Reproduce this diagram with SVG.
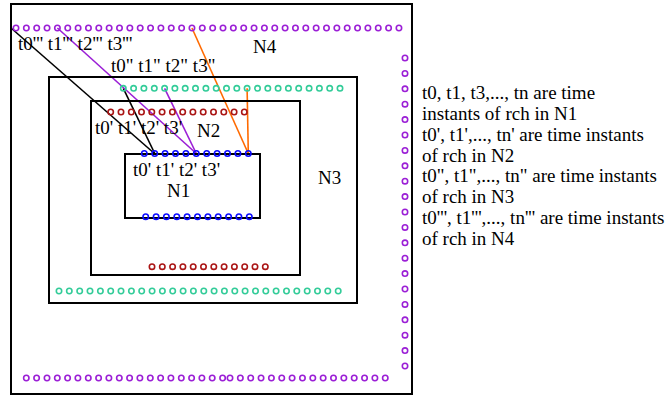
<svg xmlns="http://www.w3.org/2000/svg" width="670" height="395" viewBox="0 0 670 395">
<style>
.box{fill:none;stroke:#000;stroke-width:2}
circle{fill:none;stroke-width:1.6}
.p circle{stroke:#9b1fd6}
.g circle{stroke:#33cc99}
.r circle{stroke:#aa1515}
.b circle{stroke:#0a0aff}
text{font-family:"Liberation Serif","Times New Roman",serif;font-size:19px;fill:#000}
.ln{fill:none;stroke-width:1.6}
</style>
<rect width="670" height="395" fill="#fff"/>
<g id="connectors">
<line class="ln" x1="11" y1="28" x2="155" y2="154" stroke="#000"/>
<line class="ln" x1="123.3" y1="88.3" x2="155" y2="154" stroke="#000"/>
<line class="ln" x1="57.4" y1="28" x2="196.3" y2="153.5" stroke="#9b1fd6"/>
<line class="ln" x1="164.6" y1="88.3" x2="196.3" y2="153.5" stroke="#9b1fd6"/>
<line class="ln" x1="191.95" y1="28" x2="248.3" y2="153.5" stroke="#ff6a00"/>
<line class="ln" x1="247.1" y1="88.3" x2="248.3" y2="153.5" stroke="#ff6a00"/>
</g>
<g id="N4">
<rect class="box" x="11" y="4" width="401" height="390"/>
<g class="p">
<circle cx="16" cy="28" r="2.7"/><circle cx="26.35" cy="28" r="2.7"/><circle cx="36.7" cy="28" r="2.7"/><circle cx="47.05" cy="28" r="2.7"/><circle cx="57.4" cy="28" r="2.7"/><circle cx="67.75" cy="28" r="2.7"/><circle cx="78.1" cy="28" r="2.7"/><circle cx="88.45" cy="28" r="2.7"/><circle cx="98.8" cy="28" r="2.7"/><circle cx="109.15" cy="28" r="2.7"/><circle cx="119.5" cy="28" r="2.7"/><circle cx="129.85" cy="28" r="2.7"/><circle cx="140.2" cy="28" r="2.7"/><circle cx="150.55" cy="28" r="2.7"/><circle cx="160.9" cy="28" r="2.7"/><circle cx="171.25" cy="28" r="2.7"/><circle cx="181.6" cy="28" r="2.7"/><circle cx="191.95" cy="28" r="2.7"/><circle cx="202.3" cy="28" r="2.7"/><circle cx="212.65" cy="28" r="2.7"/><circle cx="223" cy="28" r="2.7"/><circle cx="233.35" cy="28" r="2.7"/><circle cx="243.7" cy="28" r="2.7"/><circle cx="254.05" cy="28" r="2.7"/><circle cx="264.4" cy="28" r="2.7"/><circle cx="274.75" cy="28" r="2.7"/><circle cx="285.1" cy="28" r="2.7"/><circle cx="295.45" cy="28" r="2.7"/><circle cx="305.8" cy="28" r="2.7"/><circle cx="316.15" cy="28" r="2.7"/><circle cx="326.5" cy="28" r="2.7"/><circle cx="336.85" cy="28" r="2.7"/><circle cx="347.2" cy="28" r="2.7"/><circle cx="357.55" cy="28" r="2.7"/><circle cx="367.9" cy="28" r="2.7"/><circle cx="378.25" cy="28" r="2.7"/><circle cx="388.6" cy="28" r="2.7"/><circle cx="398.95" cy="28" r="2.7"/>
<circle cx="405" cy="58" r="2.7"/><circle cx="405" cy="73.4" r="2.7"/><circle cx="405" cy="88.8" r="2.7"/><circle cx="405" cy="104.2" r="2.7"/><circle cx="405" cy="119.6" r="2.7"/><circle cx="405" cy="135" r="2.7"/><circle cx="405" cy="150.4" r="2.7"/><circle cx="405" cy="165.8" r="2.7"/><circle cx="405" cy="181.2" r="2.7"/><circle cx="405" cy="196.6" r="2.7"/><circle cx="405" cy="212" r="2.7"/><circle cx="405" cy="227.4" r="2.7"/><circle cx="405" cy="242.8" r="2.7"/><circle cx="405" cy="258.2" r="2.7"/><circle cx="405" cy="273.6" r="2.7"/><circle cx="405" cy="289" r="2.7"/><circle cx="405" cy="304.4" r="2.7"/><circle cx="405" cy="319.8" r="2.7"/><circle cx="405" cy="335.2" r="2.7"/><circle cx="405" cy="350.6" r="2.7"/><circle cx="405" cy="366" r="2.7"/>
<circle cx="26.3" cy="378" r="2.7"/><circle cx="36.6" cy="378" r="2.7"/><circle cx="47" cy="378" r="2.7"/><circle cx="57.3" cy="378" r="2.7"/><circle cx="67.6" cy="378" r="2.7"/><circle cx="77.9" cy="378" r="2.7"/><circle cx="88.3" cy="378" r="2.7"/><circle cx="98.6" cy="378" r="2.7"/><circle cx="108.9" cy="378" r="2.7"/><circle cx="119.3" cy="378" r="2.7"/><circle cx="129.6" cy="378" r="2.7"/><circle cx="139.9" cy="378" r="2.7"/><circle cx="150.3" cy="378" r="2.7"/><circle cx="160.6" cy="378" r="2.7"/><circle cx="170.9" cy="378" r="2.7"/><circle cx="181.3" cy="378" r="2.7"/><circle cx="191.6" cy="378" r="2.7"/><circle cx="201.9" cy="378" r="2.7"/><circle cx="212.2" cy="378" r="2.7"/><circle cx="222.6" cy="378" r="2.7"/>
<circle cx="230" cy="378" r="2.7"/><circle cx="240.35" cy="378" r="2.7"/><circle cx="250.7" cy="378" r="2.7"/><circle cx="261.05" cy="378" r="2.7"/><circle cx="271.4" cy="378" r="2.7"/><circle cx="281.75" cy="378" r="2.7"/><circle cx="292.1" cy="378" r="2.7"/><circle cx="302.45" cy="378" r="2.7"/><circle cx="312.8" cy="378" r="2.7"/><circle cx="323.15" cy="378" r="2.7"/><circle cx="333.5" cy="378" r="2.7"/><circle cx="343.85" cy="378" r="2.7"/><circle cx="354.2" cy="378" r="2.7"/><circle cx="364.55" cy="378" r="2.7"/><circle cx="374.9" cy="378" r="2.7"/><circle cx="385.25" cy="378" r="2.7"/>
</g>
<text x="18" y="50">t0''' t1''' t2''' t3'''</text>
<text x="253" y="53">N4</text>
</g>
<g id="N3">
<rect class="box" x="49" y="77" width="308" height="226"/>
<g class="g">
<circle cx="123.3" cy="88.3" r="2.7"/><circle cx="133.6" cy="88.3" r="2.7"/><circle cx="143.9" cy="88.3" r="2.7"/><circle cx="154.3" cy="88.3" r="2.7"/><circle cx="164.6" cy="88.3" r="2.7"/><circle cx="174.9" cy="88.3" r="2.7"/><circle cx="185.2" cy="88.3" r="2.7"/><circle cx="195.5" cy="88.3" r="2.7"/><circle cx="205.9" cy="88.3" r="2.7"/><circle cx="216.2" cy="88.3" r="2.7"/><circle cx="226.5" cy="88.3" r="2.7"/><circle cx="236.8" cy="88.3" r="2.7"/><circle cx="247.1" cy="88.3" r="2.7"/><circle cx="257.5" cy="88.3" r="2.7"/><circle cx="267.8" cy="88.3" r="2.7"/><circle cx="278.1" cy="88.3" r="2.7"/><circle cx="288.4" cy="88.3" r="2.7"/><circle cx="298.7" cy="88.3" r="2.7"/><circle cx="309.1" cy="88.3" r="2.7"/><circle cx="319.4" cy="88.3" r="2.7"/><circle cx="329.7" cy="88.3" r="2.7"/><circle cx="340" cy="88.3" r="2.7"/>
<circle cx="59" cy="291" r="2.7"/><circle cx="69.3" cy="291" r="2.7"/><circle cx="79.7" cy="291" r="2.7"/><circle cx="90" cy="291" r="2.7"/><circle cx="100.4" cy="291" r="2.7"/><circle cx="110.7" cy="291" r="2.7"/><circle cx="121" cy="291" r="2.7"/><circle cx="131.4" cy="291" r="2.7"/><circle cx="141.7" cy="291" r="2.7"/><circle cx="152.1" cy="291" r="2.7"/><circle cx="162.4" cy="291" r="2.7"/><circle cx="172.7" cy="291" r="2.7"/><circle cx="183.1" cy="291" r="2.7"/><circle cx="193.4" cy="291" r="2.7"/><circle cx="203.8" cy="291" r="2.7"/><circle cx="214.1" cy="291" r="2.7"/><circle cx="224.4" cy="291" r="2.7"/><circle cx="234.8" cy="291" r="2.7"/><circle cx="245.1" cy="291" r="2.7"/><circle cx="255.5" cy="291" r="2.7"/><circle cx="265.8" cy="291" r="2.7"/><circle cx="276.1" cy="291" r="2.7"/><circle cx="286.5" cy="291" r="2.7"/><circle cx="296.8" cy="291" r="2.7"/><circle cx="307.2" cy="291" r="2.7"/><circle cx="317.5" cy="291" r="2.7"/><circle cx="327.8" cy="291" r="2.7"/><circle cx="338.2" cy="291" r="2.7"/>
</g>
<text x="111" y="72">t0" t1" t2" t3"</text>
<text x="318" y="184">N3</text>
</g>
<g id="N2">
<rect class="box" x="91" y="101" width="209" height="174"/>
<g class="r">
<circle cx="110.7" cy="112" r="2.7"/><circle cx="121" cy="112" r="2.7"/><circle cx="131.3" cy="112" r="2.7"/><circle cx="141.5" cy="112" r="2.7"/><circle cx="151.8" cy="112" r="2.7"/><circle cx="162.1" cy="112" r="2.7"/><circle cx="172.4" cy="112" r="2.7"/><circle cx="182.7" cy="112" r="2.7"/><circle cx="192.9" cy="112" r="2.7"/><circle cx="203.2" cy="112" r="2.7"/><circle cx="213.5" cy="112" r="2.7"/><circle cx="223.8" cy="112" r="2.7"/><circle cx="234.1" cy="112" r="2.7"/><circle cx="244.3" cy="112" r="2.7"/>
<circle cx="152" cy="266.7" r="2.7"/><circle cx="162.3" cy="266.7" r="2.7"/><circle cx="172.6" cy="266.7" r="2.7"/><circle cx="182.9" cy="266.7" r="2.7"/><circle cx="193.2" cy="266.7" r="2.7"/><circle cx="203.5" cy="266.7" r="2.7"/><circle cx="213.8" cy="266.7" r="2.7"/><circle cx="224.1" cy="266.7" r="2.7"/><circle cx="234.4" cy="266.7" r="2.7"/><circle cx="244.7" cy="266.7" r="2.7"/><circle cx="255" cy="266.7" r="2.7"/><circle cx="265.3" cy="266.7" r="2.7"/>
</g>
<text x="95" y="134">t0' t1' t2' t3'</text>
<text x="197" y="137">N2</text>
</g>
<g id="N1">
<rect class="box" x="125" y="154" width="135" height="64"/>
<g class="b">
<circle cx="144.3" cy="153.5" r="2.7"/><circle cx="154.7" cy="153.5" r="2.7"/><circle cx="165.1" cy="153.5" r="2.7"/><circle cx="175.5" cy="153.5" r="2.7"/><circle cx="185.9" cy="153.5" r="2.7"/><circle cx="196.3" cy="153.5" r="2.7"/><circle cx="206.7" cy="153.5" r="2.7"/><circle cx="217.1" cy="153.5" r="2.7"/><circle cx="227.5" cy="153.5" r="2.7"/><circle cx="237.9" cy="153.5" r="2.7"/><circle cx="248.3" cy="153.5" r="2.7"/>
<circle cx="145.7" cy="216.7" r="2.7"/><circle cx="156.1" cy="216.7" r="2.7"/><circle cx="166.4" cy="216.7" r="2.7"/><circle cx="176.8" cy="216.7" r="2.7"/><circle cx="187.1" cy="216.7" r="2.7"/><circle cx="197.5" cy="216.7" r="2.7"/><circle cx="207.9" cy="216.7" r="2.7"/><circle cx="218.2" cy="216.7" r="2.7"/><circle cx="228.6" cy="216.7" r="2.7"/><circle cx="238.9" cy="216.7" r="2.7"/><circle cx="249.3" cy="216.7" r="2.7"/>
</g>
<text x="133" y="176">t0' t1' t2' t3'</text>
<text x="167" y="197">N1</text>
</g>
<g id="legend">
<text x="422" y="99">t0, t1, t3,..., tn are time</text>
<text x="422" y="120">instants of rch in N1</text>
<text x="422" y="141">t0', t1',..., tn' are time instants</text>
<text x="422" y="162">of rch in N2</text>
<text x="422" y="182">t0", t1",..., tn" are time instants</text>
<text x="422" y="203">of rch in N3</text>
<text x="422" y="224">t0''', t1''',..., tn''' are time instants</text>
<text x="422" y="245">of rch in N4</text>
</g>
</svg>
